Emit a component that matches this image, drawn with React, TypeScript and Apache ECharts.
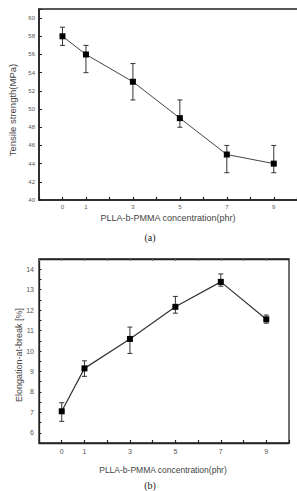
import React, { useEffect, useRef } from "react";
import * as echarts from "echarts";

const concA = [0, 1, 3, 5, 7, 9];
const tensile = [58, 56, 53, 49, 45, 44];
const tensileLow = [57, 54, 51, 48, 43, 43];
const tensileHigh = [59, 57, 55, 51, 46, 46];

const concB = [0, 1, 3, 5, 7, 9];
const elong = [7.05, 9.15, 10.59, 12.16, 13.38, 11.55];
const elongLow = [6.56, 8.76, 9.88, 11.85, 13.17, 11.36];
const elongHigh = [7.47, 9.52, 11.17, 12.67, 13.77, 11.76];

const xLabelShown = [0, 1, 3, 5, 7, 9];

const AX = "#222";
const LBL = "#555";

function errorSeries(xs: number[], lo: number[], hi: number[], idx: number, cap: number) {
  return {
    type: "custom",
    xAxisIndex: idx === 0 ? 0 : 1,
    yAxisIndex: idx,
    silent: true,
    z: 3,
    data: xs.map((x, i) => [x, lo[i], hi[i]]),
    encode: { x: 0, y: [1, 2] },
    renderItem: (params: any, api: any) => {
      const x = api.value(0);
      const p1 = api.coord([x, api.value(1)]);
      const p2 = api.coord([x, api.value(2)]);
      const st = { stroke: "#333", lineWidth: 1 };
      return {
        type: "group",
        children: [
          { type: "line", shape: { x1: p1[0], y1: p1[1], x2: p2[0], y2: p2[1] }, style: st },
          { type: "line", shape: { x1: p1[0] - cap, y1: p1[1], x2: p1[0] + cap, y2: p1[1] }, style: st },
          { type: "line", shape: { x1: p2[0] - cap, y1: p2[1], x2: p2[0] + cap, y2: p2[1] }, style: st },
        ],
      };
    },
  };
}

export default function App() {
  const ref = useRef<HTMLDivElement>(null);
  useEffect(() => {
    if (!ref.current) return;
    const chart = echarts.init(ref.current, null, { renderer: "svg" });
    const xFmt = (v: number) => (xLabelShown.includes(v) ? String(v) : "");
    const option: any = {
      animation: false,
      backgroundColor: "#fff",
      grid: [
        { left: 39, top: 9, width: 270, height: 191, show: true, borderColor: AX, borderWidth: 1.5, outerBoundsMode: "none", containLabel: false },
        { left: 39, top: 259, width: 250, height: 184, show: true, borderColor: AX, borderWidth: 1.3, outerBoundsMode: "none", containLabel: false },
      ],
      xAxis: [
        {
          type: "value", gridIndex: 0, min: -1, max: 10.5, interval: 1,
          axisLine: { onZero: false, lineStyle: { color: AX, width: 1.5 } },
          axisTick: { inside: true, length: 3, lineStyle: { color: AX, width: 1.2 } },
          splitLine: { show: false },
          axisLabel: { formatter: xFmt, fontSize: 6, color: LBL, margin: 4, fontFamily: "Liberation Sans" },
        },
        {
          type: "value", gridIndex: 1, min: -1, max: 10, interval: 1,
          axisLine: { onZero: false, lineStyle: { color: AX, width: 1.3 } },
          axisTick: { inside: true, length: 3, lineStyle: { color: AX, width: 1.2 } },
          splitLine: { show: false },
          axisLabel: { formatter: xFmt, fontSize: 7, color: LBL, margin: 5, fontFamily: "Liberation Sans" },
        },
        {
          type: "value", gridIndex: 1, position: "top", min: -1, max: 10, interval: 1,
          axisLine: { onZero: false, lineStyle: { color: AX, width: 1.3 } },
          axisTick: { inside: true, length: 2, lineStyle: { color: "#666", width: 1 } },
          splitLine: { show: false },
          axisLabel: { show: false },
        },
      ],
      yAxis: [
        {
          type: "value", gridIndex: 0, min: 40, max: 61, interval: 2,
          axisLine: { onZero: false, lineStyle: { color: AX, width: 1.5 } },
          axisTick: { inside: true, length: 3, lineStyle: { color: AX, width: 1 } },
          splitLine: { show: false },
          axisLabel: {
            formatter: (v: number) => (v % 2 === 0 && v <= 60 ? String(v) : ""),
            fontSize: 6, color: LBL, margin: 4, fontFamily: "Liberation Sans",
          },
        },
        {
          type: "value", gridIndex: 1, min: 5.5, max: 14.5, interval: 0.5,
          axisLine: { onZero: false, lineStyle: { color: AX, width: 1.3 } },
          axisTick: { inside: true, length: 2.5, lineStyle: { color: AX, width: 1 } },
          splitLine: { show: false },
          axisLabel: {
            formatter: (v: number) => (Number.isInteger(v) ? String(v) : ""),
            fontSize: 7, color: LBL, margin: 5, fontFamily: "Liberation Sans",
          },
        },
      ],
      series: [
        {
          type: "line", xAxisIndex: 0, yAxisIndex: 0,
          data: concA.map((x, i) => [x, tensile[i]]),
          symbol: "rect", symbolSize: 6,
          lineStyle: { color: "#444", width: 1 },
          itemStyle: { color: "#000" },
          z: 4,
        },
        errorSeries(concA, tensileLow, tensileHigh, 0, 2.5),
        {
          type: "line", xAxisIndex: 1, yAxisIndex: 1,
          data: concB.map((x, i) => [x, elong[i]]),
          symbol: "rect", symbolSize: 6,
          lineStyle: { color: "#333", width: 1.2 },
          itemStyle: { color: "#000" },
          z: 4,
        },
        errorSeries(concB, elongLow, elongHigh, 1, 2.5),
      ],
      graphic: [
        {
          type: "text", x: 12, y: 110, rotation: Math.PI / 2,
          style: {
            text: "Tensile strength(MPa)", fill: "#444", fontSize: 9.5,
            fontFamily: "Liberation Sans", align: "center", verticalAlign: "middle",
          },
        },
        {
          type: "text", x: 168, y: 218,
          style: {
            text: "PLLA-b-PMMA concentration(phr)", fill: "#444", fontSize: 9,
            fontFamily: "Liberation Sans", align: "center", verticalAlign: "middle",
          },
        },
        {
          type: "text", x: 150, y: 237,
          style: {
            text: "(a)", fill: "#222", fontSize: 10,
            fontFamily: "Liberation Serif", align: "center", verticalAlign: "middle",
          },
        },
        {
          type: "text", x: 19, y: 355, rotation: Math.PI / 2,
          style: {
            text: "Elongation-at-break [%]", fill: "#444", fontSize: 9,
            fontFamily: "Liberation Sans", align: "center", verticalAlign: "middle",
          },
        },
        {
          type: "text", x: 163, y: 470,
          style: {
            text: "PLLA-b-PMMA concentration(phr)", fill: "#444", fontSize: 8.5,
            fontFamily: "Liberation Sans", align: "center", verticalAlign: "middle",
          },
        },
        {
          type: "text", x: 150, y: 485,
          style: {
            text: "(b)", fill: "#222", fontSize: 10,
            fontFamily: "Liberation Serif", align: "center", verticalAlign: "middle",
          },
        },
      ],
    };
    chart.setOption(option);
    return () => chart.dispose();
  }, []);
  return (
    <div
      ref={ref}
      style={{ position: "fixed", left: 0, top: 0, width: 297, height: 491, background: "#fff" }}
    />
  );
}
